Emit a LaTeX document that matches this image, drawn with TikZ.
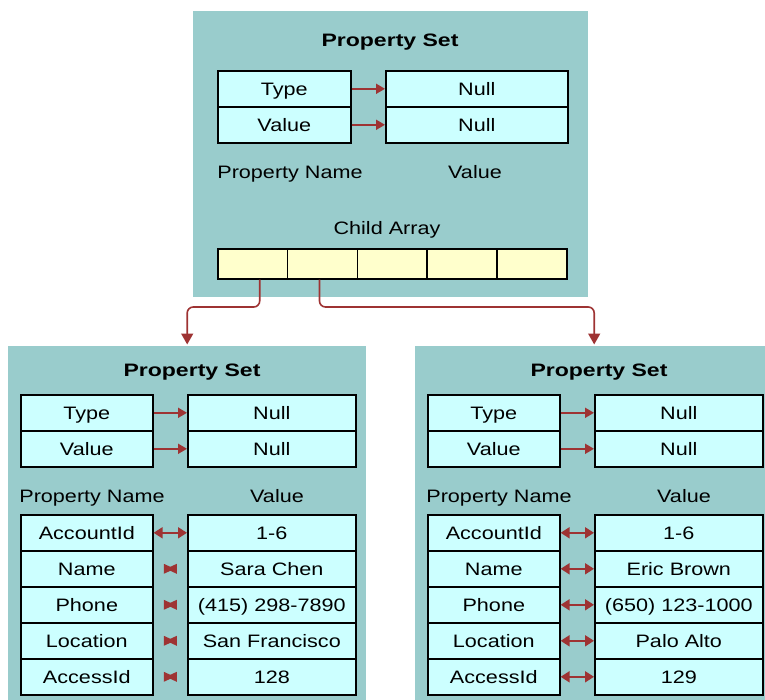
\documentclass[tikz,border=0pt]{standalone}
\usepackage{fontspec}
\setmainfont{Liberation Sans}[FakeStretch=1.2,BoldFeatures={FakeStretch=1.28}]
\usetikzlibrary{arrows.meta,calc}
\definecolor{panelc}{HTML}{99CCCC}
\definecolor{cellc}{HTML}{CCFFFF}
\definecolor{childc}{HTML}{FFFFCC}
\definecolor{arrc}{HTML}{9E3333}
\tikzset{
  panel/.style={fill=panelc, draw=none, anchor=north west, inner sep=0},
  cellbox/.style={draw=black, line width=1.6pt, fill=cellc, minimum height=36pt, inner sep=0, anchor=north west},
  childbox/.style={draw=black, line width=1.6pt, fill=childc, minimum height=30pt, minimum width=69.8pt, inner sep=0, anchor=north west},
  titletext/.style={font=\fontsize{18}{21}\selectfont\bfseries, text height=15pt, text depth=2pt, inner sep=0},
  plaintext/.style={font=\fontsize{18}{21}\selectfont, text height=15pt, text depth=2pt},
  arr/.style={draw=arrc, line width=1.8pt, -{Triangle[width=10pt,length=9pt]}},
  darr/.style={draw=arrc, line width=1.8pt, {Triangle[width=11pt,length=9pt]}-{Triangle[width=11pt,length=9pt]}},
  conn/.style={draw=arrc, line width=1.6pt, rounded corners=6pt, -{Triangle[width=12pt,length=11pt]}, shorten >=1.5pt},
  bowtie/.style={fill=arrc}
}
\newcommand{\lowerpanel}[7]{%
  \begin{scope}[xshift=#2pt]
    \node[panel, minimum width=358pt, minimum height=354pt] (#1) at (8,346) {};
    \node[titletext] (#1t) at (192,370) {Property Set};
    \node[cellbox, plaintext, minimum width=132pt] (#1k1) at (20,394) {Type};
    \node[cellbox, plaintext, minimum width=132pt] (#1k2) at (20,430) {Value};
    \node[cellbox, plaintext, minimum width=168pt] (#1v1) at (187,394) {Null};
    \node[cellbox, plaintext, minimum width=168pt] (#1v2) at (187,430) {Null};
    \node[plaintext] (#1pn) at (92,496) {Property Name};
    \node[plaintext] (#1pv) at (277,496) {Value};
    \node[cellbox, plaintext, minimum width=132pt] (#1r1) at (20,514) {AccountId};
    \node[cellbox, plaintext, minimum width=132pt] (#1r2) at (20,550) {Name};
    \node[cellbox, plaintext, minimum width=132pt] (#1r3) at (20,586) {Phone};
    \node[cellbox, plaintext, minimum width=132pt] (#1r4) at (20,622) {Location};
    \node[cellbox, plaintext, minimum width=132pt] (#1r5) at (20,658) {AccessId};
    \node[cellbox, plaintext, minimum width=168pt] (#1w1) at (187,514) {#3};
    \node[cellbox, plaintext, minimum width=168pt] (#1w2) at (187,550) {#4};
    \node[cellbox, plaintext, minimum width=168pt] (#1w3) at (187,586) {#5};
    \node[cellbox, plaintext, minimum width=168pt] (#1w4) at (187,622) {#6};
    \node[cellbox, plaintext, minimum width=168pt] (#1w5) at (187,658) {#7};
    \draw[arr] (#1k1) -- (#1v1);
    \draw[arr] (#1k2) -- (#1v2);
    \draw[darr] (#1r1) -- (#1w1);
  \end{scope}}
\begin{document}
\begin{tikzpicture}[x=1pt,y=-1pt]
  \useasboundingbox (0,0) rectangle (765,700);
  \clip (0,0) rectangle (765,700);
  % top panel
  \node[panel, minimum width=395pt, minimum height=286pt] (top) at (193,11) {};
  \node[titletext] (topt) at (390,40) {Property Set};
  \node[cellbox, plaintext, minimum width=133pt] (tk1) at (217,70) {Type};
  \node[cellbox, plaintext, minimum width=133pt] (tk2) at (217,106) {Value};
  \node[cellbox, plaintext, minimum width=182pt] (tv1) at (385,70) {Null};
  \node[cellbox, plaintext, minimum width=182pt] (tv2) at (385,106) {Null};
  \draw[arr] (tk1) -- (tv1);
  \draw[arr] (tk2) -- (tv2);
  \node[plaintext] (tpn) at (290,172) {Property Name};
  \node[plaintext] (tpv) at (475,172) {Value};
  \node[plaintext] (tca) at (387,228) {Child Array};
  \foreach \i in {1,...,5}
    \node[childbox] (c\i) at ({217+69.8*(\i-1)},248) {};
  % lower panels
  \lowerpanel{L}{0}{1-6}{Sara Chen}{(415) 298-7890}{San Francisco}{128}
  \lowerpanel{R}{407}{1-6}{Eric Brown}{(650) 123-1000}{Palo Alto}{129}
  \foreach \i in {2,...,5}{
    \draw[darr] (Rr\i) -- (Rw\i);
    \coordinate (m\i) at ($(Lr\i.east)!0.5!(Lw\i.west)$);
    \fill[bowtie] ([shift={(-6.5,-5)}]m\i) -- ([shift={(0,-2)}]m\i) -- ([shift={(6.5,-5)}]m\i)
      -- ([shift={(6.5,5)}]m\i) -- ([shift={(0,2)}]m\i) -- ([shift={(-6.5,5)}]m\i) -- cycle;
  }
  % connectors
  \coordinate (bend) at (0,307);
  \coordinate (s1) at ([xshift=7pt]c1.south);
  \coordinate (s2) at ([xshift=-3pt]c2.south);
  \draw[conn] (s1) -- (s1 |- bend) -| (L.north);
  \draw[conn] (s2) -- (s2 |- bend) -| (R.north);
\end{tikzpicture}
\end{document}
